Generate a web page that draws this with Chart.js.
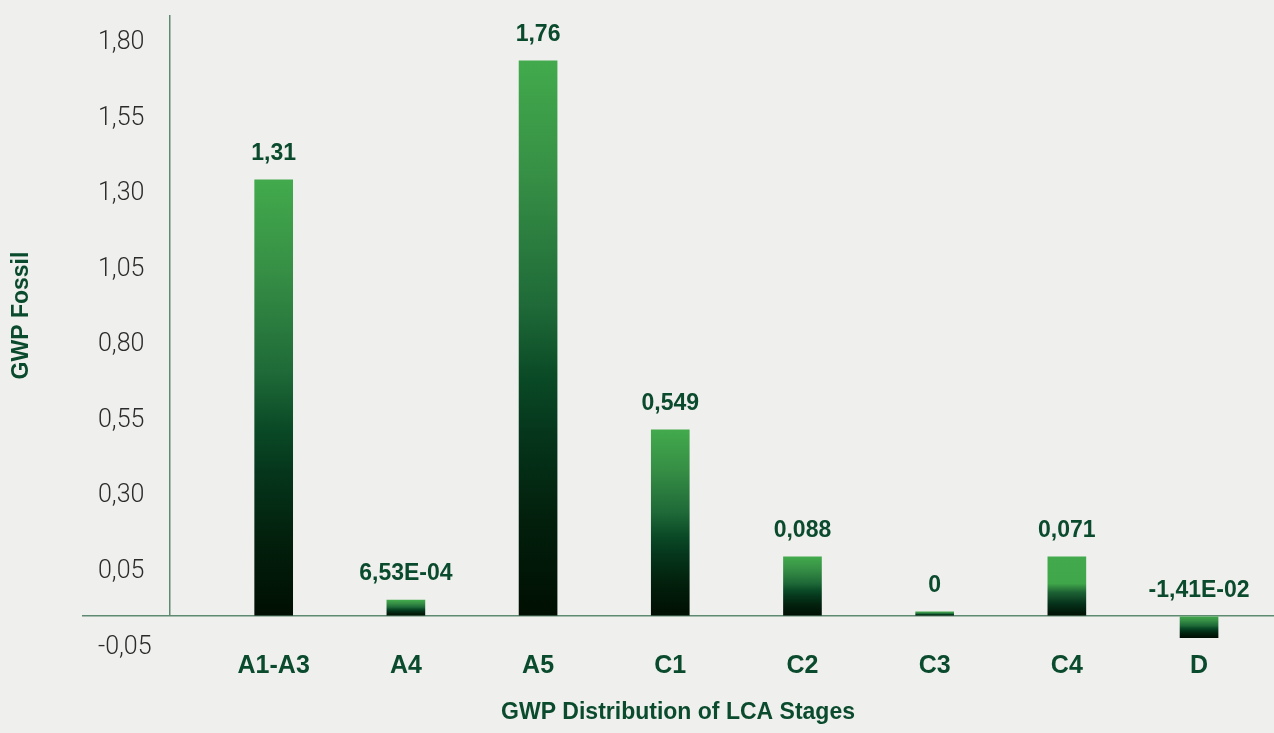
<!DOCTYPE html>
<html>
<head>
<meta charset="utf-8">
<script src="https://cdn.jsdelivr.net/npm/chart.js@4/dist/chart.umd.min.js"></script>
<style>
  html, body { margin: 0; padding: 0; background: #efefed; }
  #wrap { width: 1274px; height: 733px; position: relative; }
</style>
</head>
<body>
<div id="wrap"><canvas id="myChart"></canvas></div>
<script>
// Data (bar tops in axis units, printed labels as shown)
const categories = ["A1-A3", "A4", "A5", "C1", "C2", "C3", "C4", "D"];
const barTops = [1.346, -0.044, 1.74, 0.519, 0.099, -0.083, 0.099, -0.168];
const valueLabels = ["1,31", "6,53E-04", "1,76", "0,549", "0,088", "0", "0,071", "-1,41E-02"];
const baseline = -0.0965;

const yTickValues = [1.80, 1.55, 1.30, 1.05, 0.80, 0.55, 0.30, 0.05, -0.20];
const yTickLabels = ["1,80", "1,55", "1,30", "1,05", "0,80", "0,55", "0,30", "0,05", "-0,05"];

const yAxisAt = -0.784;   // where the vertical axis line crosses the category axis

const darkGreen = "#0b4b2d";
const lineColor = "#5f8a72";

// gradient per bar, top to bottom
const defaultStops = [[0, "#42aa4c"], [0.21, "#368f45"], [0.44, "#1f6a38"], [0.57, "#0a4a26"], [0.67, "#05361c"], [0.83, "#021f0c"], [1, "#000f02"]];
const flatTopStops = [[0, "#42aa4c"], [0.45, "#40a64a"], [0.6, "#1d6234"], [0.8, "#05301a"], [1, "#000f02"]];

function barFill(ctx) {
    if (ctx.type !== 'data') return "#42aa4c";
    const chart = ctx.chart;
    const y = chart.scales.y;
    const p1 = y.getPixelForValue(barTops[ctx.dataIndex]);
    const p0 = y.getPixelForValue(baseline);
    if (!isFinite(p0) || !isFinite(p1) || p0 === p1) return "#42aa4c";
    const g = chart.ctx.createLinearGradient(0, Math.min(p0, p1), 0, Math.max(p0, p1));
    const stops = categories[ctx.dataIndex] === "C4" ? flatTopStops : defaultStops;
    stops.forEach(s => g.addColorStop(s[0], s[1]));
    return g;
}

// value labels above each bar
const valueLabelPlugin = {
    id: 'valueLabels',
    afterDatasetsDraw(chart) {
        const ctx = chart.ctx;
        const meta = chart.getDatasetMeta(0);
        ctx.save();
        ctx.font = 'bold 23px "Liberation Sans", Arial, sans-serif';
        ctx.fillStyle = darkGreen;
        ctx.textAlign = 'center';
        ctx.textBaseline = 'middle';
        meta.data.forEach((bar, i) => {
            const top = Math.min(bar.y, bar.base);
            ctx.fillText(valueLabels[i], bar.x, top - 26);
        });
        ctx.restore();
    }
};

Chart.defaults.font.family = '"Liberation Sans", Arial, sans-serif';

const ctx = document.getElementById('myChart').getContext('2d');
const gwpChart = new Chart(ctx, {
    type: 'bar',
    data: {
        datasets: [{
            data: barTops.map((v, i) => ({ x: i, y: v })),
            base: baseline,
            backgroundColor: barFill,
            borderWidth: 0,
            barThickness: 38,
            clip: false
        }]
    },
    plugins: [valueLabelPlugin],
    options: {
        responsive: true,
        maintainAspectRatio: false,
        animation: false,
        layout: { padding: { top: 15, left: 0, right: 0, bottom: 0 } },
        plugins: {
            legend: { display: false },
            tooltip: { enabled: false }
        },
        scales: {
            x: {
                type: 'linear',
                offset: false,
                min: -1.45,
                max: 7.567,
                afterBuildTicks: scale => {
                    scale.ticks = [{ value: yAxisAt }].concat(categories.map((c, i) => ({ value: i })));
                },
                afterFit: scale => {
                    scale.height = 117;
                    scale.paddingLeft = 0;
                    scale.paddingRight = 0;
                },
                grid: {
                    offset: false,
                    drawTicks: false,
                    color: c => (c.tick && c.tick.value === yAxisAt) ? lineColor : 'transparent',
                    lineWidth: 1.5
                },
                border: { display: false },
                ticks: {
                    autoSkip: false,
                    maxRotation: 0,
                    padding: 35,
                    color: darkGreen,
                    font: { size: 25, weight: 'bold' },
                    callback: value => categories[value] !== undefined ? categories[value] : ''
                },
                title: {
                    display: true,
                    text: 'GWP Distribution of LCA Stages',
                    color: darkGreen,
                    font: { size: 23, weight: 'bold' },
                    padding: { top: 0, bottom: 7 }
                }
            },
            y: {
                min: baseline,
                max: 1.8916,
                afterBuildTicks: scale => {
                    scale.ticks = yTickValues.map(v => ({ value: v })).concat([{ value: baseline }]);
                },
                afterFit: scale => {
                    scale.width = 82;
                    scale.paddingTop = 0;
                    scale.paddingBottom = 0;
                },
                grid: {
                    drawTicks: false,
                    color: c => (c.tick && c.tick.value === baseline) ? lineColor : 'transparent',
                    lineWidth: 1.5
                },
                border: { display: false },
                ticks: {
                    autoSkip: false,
                    mirror: true,
                    padding: 16,
                    color: "#2b2b2b",
                    font: { family: 'Roboto, "Liberation Sans", sans-serif', size: 25, weight: 300 },
                    callback: value => {
                        const k = yTickValues.indexOf(value);
                        return k >= 0 ? yTickLabels[k] : '';
                    }
                },
                title: {
                    display: true,
                    text: 'GWP Fossil',
                    color: darkGreen,
                    font: { size: 23, weight: 'bold' },
                    padding: { top: 8, bottom: 0 }
                }
            }
        }
    }
});
</script>
</body>
</html>
